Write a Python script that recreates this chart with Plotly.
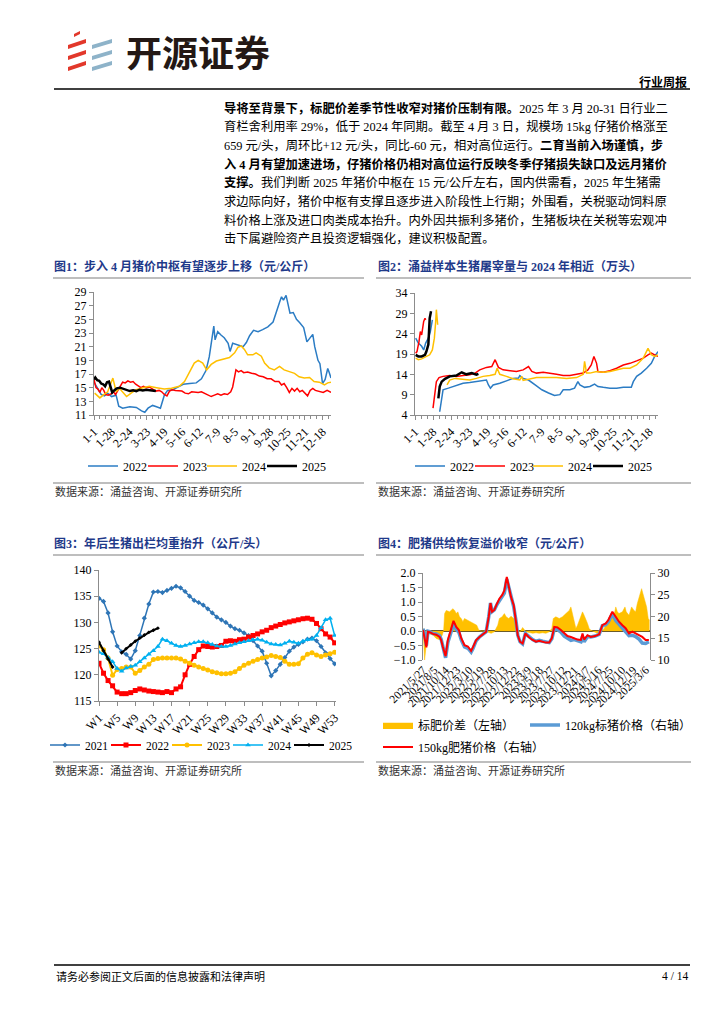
import plotly.graph_objects as go

W, H = 724, 1024
def px(x): return x / W
def py(y): return 1 - y / H

SERIF = "Liberation Serif, Noto Sans CJK SC"
CJK = "Noto Sans CJK SC"
NAVY = "#1F3A8A"

# ---------------- Chart 1 data: 猪价 (元/公斤), x = day of year ----------------
tick_days = [0, 27, 54, 81, 108, 135, 162, 189, 216, 243, 270, 297, 324, 351]
tick_md = ["1-1", "1-28", "2-24", "3-23", "4-19", "5-16", "6-12", "7-9", "8-5", "9-1", "9-28", "10-25", "11-21", "12-18"]

p22_d = [0,6,11,16,21,27,34,38,44,55,65,73,78,83,90,96,102,108,113,121,131,137,147,157,165,172,177,181,184,186,190,195,200,206,209,213,221,229,234,239,245,252,259,267,275,280,285,288,291,295,298,301,306,311,316,322,327,332,336,339,344,347,351,355,359,361,364]
p22_v = [15.8,14.8,14.0,13.8,14.2,13.7,13.9,12.3,12.0,12.2,12.1,11.6,11.4,12.0,12.4,12.2,12.0,13.9,14.6,14.7,15.2,15.5,15.6,15.7,16.3,17.5,19.5,22.5,24.0,22.0,23.2,22.7,22.3,21.5,20.3,21.5,21.2,21.0,21.6,22.6,23.4,23.2,23.5,23.9,24.6,25.9,27.5,28.3,27.8,28.5,27.2,25.9,26.0,25.0,24.5,23.8,21.7,22.4,22.8,21.0,19.0,18.5,15.6,16.2,17.8,17.3,16.4]
p23_d = [0,3,6,9,12,15,18,22,26,30,33,36,40,44,48,52,56,60,64,68,72,76,80,85,90,95,100,104,108,112,116,120,125,130,135,140,145,150,155,160,165,170,175,180,185,190,195,200,205,210,213,216,218,222,226,230,236,242,248,254,260,266,272,278,284,288,292,296,300,304,308,312,316,320,324,328,332,336,340,346,352,358,364]
p23_v = [16.2,15.0,14.8,14.3,15.0,14.6,14.0,13.9,14.1,14.4,14.0,14.5,15.3,15.8,15.7,16.0,15.8,15.9,15.5,15.2,15.0,15.2,15.0,15.1,14.8,14.5,14.6,14.4,14.0,13.8,14.5,14.7,14.6,14.5,14.5,14.2,14.1,14.4,14.3,14.3,14.4,14.2,14.0,13.7,13.9,14.1,13.9,14.1,14.0,14.4,15.1,16.5,17.6,17.3,17.5,17.2,17.3,17.1,17.0,16.7,16.6,16.3,16.3,15.9,15.9,15.4,15.6,15.0,14.3,14.9,14.5,14.9,14.4,14.6,14.2,13.8,14.6,14.9,14.6,14.5,14.3,14.6,14.3]
p24_d = [1,9,14,21,29,34,39,50,57,65,75,85,96,108,119,131,139,147,154,160,167,173,180,188,198,208,216,221,226,231,236,244,249,257,262,269,277,285,292,300,308,315,323,331,338,346,354,359,364]
p24_v = [14.2,13.5,13.9,14.4,16.4,14.4,14.9,13.7,14.2,14.7,15.0,15.2,15.0,14.8,14.9,15.2,15.9,17.4,18.6,19.0,18.6,17.6,18.4,18.9,19.2,19.4,20.1,20.9,21.1,20.6,19.8,19.8,20.1,19.6,18.6,17.9,17.6,18.1,17.6,17.4,17.1,16.6,16.4,16.5,15.9,15.8,15.4,15.7,15.8]
p25_d = [0,2,5,8,11,14,17,20,23,26,28,31,35,40,45,50,55,60,65,70,75,80,85,90,95]
p25_v = [16.2,16.5,16.1,16.0,15.6,15.5,15.2,15.8,15.9,14.8,14.3,14.6,14.9,15.0,14.8,14.6,14.5,14.6,14.5,14.7,14.6,14.7,14.6,14.5,14.5]

# ---------------- Chart 2 data: 屠宰量 (万头) ----------------
s22_d = [1,5,10,13,16,20,23,26,30,37,40,42,50,57,65,72,82,92,100,107,110,113,117,127,137,147,155,157,162,170,180,190,200,209,217,222,232,239,244,247,254,262,269,274,282,292,302,312,324,327,332,339,347,354,359,364]
s22_v = [22.9,21.7,20.9,20.0,21.7,22.9,24.5,27.4,None,4.8,8.9,10.2,10.6,11.0,11.4,11.8,12.0,12.2,12.4,12.6,11.4,10.6,11.4,11.8,12.4,13.0,13.1,13.7,13.0,12.6,11.4,10.2,9.4,8.8,9.0,10.2,10.2,10.6,12.2,11.4,10.8,11.0,11.6,11.0,10.8,10.6,10.6,10.8,10.8,12.2,13.5,14.3,15.5,16.7,18.4,19.6]
s23_d = [1,3,6,8,10,11,13,15,16,22,27,30,32,36,42,52,62,72,82,90,97,107,115,120,125,132,142,152,162,170,175,182,192,202,212,222,232,242,252,259,264,268,272,274,282,292,302,312,322,332,342,349,354,359,364]
s23_v = [19.2,19.6,22.1,24.5,23.7,25.0,27.0,27.8,27.4,None,5.7,10.6,12.2,13.2,13.5,13.7,13.5,13.7,13.9,14.3,15.1,15.7,15.9,17.6,15.7,15.1,14.9,14.7,15.1,15.9,14.7,14.3,14.5,14.3,14.0,13.7,13.7,14.0,14.3,15.1,16.3,18.4,16.7,14.7,14.5,14.9,15.5,16.3,16.7,17.3,18.0,18.8,19.2,18.8,18.4]
s24_d = [1,5,10,17,22,26,29,31,32,34,40,48,52,60,70,82,92,102,112,120,123,127,137,147,157,160,162,172,182,197,212,227,242,252,254,257,262,272,282,292,302,312,322,332,342,349,354,359,364]
s24_v = [18.0,17.6,17.8,18.4,18.8,20.0,22.9,27.0,29.9,26.2,None,11.4,12.6,13.0,12.9,12.6,13.0,13.5,13.7,14.0,15.5,14.0,13.5,12.9,12.6,13.5,12.5,12.9,13.2,13.2,13.2,13.0,13.2,14.0,17.2,14.3,14.3,14.7,14.5,14.7,15.1,15.5,15.5,16.3,18.0,20.4,18.8,18.4,18.8]
s25_d = [1,5,10,15,17,20,21,22,24,30,35,37,40,45,52,62,70,77,85,92,95]
s25_v = [18.8,18.4,18.4,18.8,19.6,21.3,24.5,27.8,29.5,None,8.1,11.0,12.2,12.9,13.5,13.7,14.5,14.0,14.3,13.9,14.1]

# ---------------- Chart 3 data: 出栏均重 (公斤/头), weeks W1..W53 ----------------
weeks = list(range(1, 54))
week_ticks = list(range(1, 54, 4))
w2021 = [134.6,134.0,131.8,128.2,125.5,124.4,123.9,123.0,124.6,127.5,130.8,133.5,135.8,135.9,135.7,136.1,136.5,136.9,136.6,135.9,135.0,134.2,133.8,133.3,132.6,131.8,131.0,130.5,130.0,129.3,128.8,128.5,128.0,127.5,126.5,125.5,124.5,122.2,119.8,120.8,122.0,123.3,124.5,125.3,125.8,126.3,126.8,127.0,126.5,125.4,124.2,123.1,122.1]
w2022 = [122.2,120.3,118.9,117.9,116.7,116.4,116.4,116.6,117.0,117.3,117.1,116.9,116.8,116.7,116.6,116.8,116.6,117.3,117.7,120.0,122.0,123.5,124.8,125.5,125.4,125.3,125.4,125.6,126.4,126.5,126.4,126.7,126.8,127.2,127.5,127.8,128.2,128.5,129.0,129.3,129.6,129.9,130.1,130.3,130.5,130.7,130.8,130.6,129.8,128.8,127.8,127.2,126.1]
w2023 = [125.5,124.8,123.2,119.9,121.0,121.2,121.5,121.5,120.3,120.8,121.5,122.0,122.9,123.1,123.2,123.2,123.2,123.2,123.0,122.6,122.2,121.8,121.5,121.2,120.9,120.6,120.4,120.2,120.2,120.3,120.6,121.2,121.8,122.2,122.6,122.9,123.2,123.4,123.7,123.5,123.3,122.6,122.0,122.0,122.1,123.2,123.9,124.2,123.8,123.5,123.8,124.0,124.3]
w2024 = [124.3,124.0,123.3,122.5,121.2,120.7,121.3,121.6,121.8,122.5,123.2,123.9,124.6,125.4,126.8,126.5,126.0,125.6,125.4,125.6,125.9,126.1,126.3,126.3,126.1,125.8,125.5,125.4,125.4,125.6,125.9,126.1,126.3,126.5,126.7,126.8,126.6,126.2,125.9,125.8,125.7,126.0,126.4,126.2,126.0,126.4,126.7,126.8,127.5,129.0,130.5,130.8,127.5]
w2025 = [126.2,124.6,123.0,121.5,None,124.2,125.0,125.7,126.4,127.0,127.6,128.1,128.5,128.9]

# ---------------- Chart 4 data ----------------
f_tick_dates = ["2021-05-27","2021-08-05","2021-10-14","2021-12-23","2022-03-10","2022-05-19","2022-07-28","2022-10-13","2022-12-22","2023-03-09","2023-05-18","2023-07-27","2023-10-12","2023-12-21","2024-03-07","2024-05-16","2024-07-25","2024-10-10","2024-12-19","2025-03-06"]
f_tick_text = [d.split("-")[0] + "/" + str(int(d.split("-")[1])) + "/" + str(int(d.split("-")[2])) for d in f_tick_dates]

spread_dates = ["2021-05-27","2021-05-31","2021-06-06","2021-06-17","2021-06-27","2021-07-07","2021-07-28","2021-08-17","2021-09-07","2021-09-23","2021-10-02","2021-10-08","2021-10-18","2021-11-08","2021-11-28","2021-12-09","2021-12-19","2021-12-29","2022-01-08","2022-01-19","2022-01-29","2022-02-08","2022-03-01","2022-03-21","2022-04-11","2022-04-25","2022-05-08","2022-05-22","2022-06-12","2022-07-02","2022-07-23","2022-08-12","2022-09-02","2022-09-12","2022-09-29","2022-10-13","2022-10-24","2022-11-09","2022-11-23","2022-12-10","2022-12-24","2023-01-04","2023-01-18","2023-02-03","2023-02-24","2023-03-17","2023-04-06","2023-04-27","2023-05-17","2023-06-07","2023-06-27","2023-07-18","2023-08-03","2023-08-12","2023-08-28","2023-09-18","2023-10-08","2023-10-29","2023-11-19","2023-11-29","2023-12-09","2023-12-19","2023-12-30","2024-01-09","2024-01-19","2024-02-09","2024-02-19","2024-02-29","2024-03-11","2024-03-21","2024-03-31","2024-04-21","2024-05-11","2024-06-01","2024-06-22","2024-07-06","2024-07-22","2024-08-08","2024-08-22","2024-09-02","2024-09-12","2024-09-22","2024-10-13","2024-10-29","2024-11-06","2024-11-23","2024-12-09","2024-12-24","2025-01-03","2025-01-13","2025-01-28","2025-02-09","2025-02-17","2025-03-02","2025-03-12","2025-03-22","2025-03-30"]
spread_vals = [0.10,-0.66,-1.00,-0.43,-0.14,-0.10,-0.14,-0.26,-0.30,-0.15,0.03,0.60,0.71,0.66,0.77,0.71,0.60,0.66,0.49,0.43,0.32,0.43,0.37,0.32,0.26,0.20,0.03,0.00,0.00,-0.03,-0.08,-0.03,0.20,0.43,0.49,0.60,0.49,0.43,0.51,0.43,0.20,0.05,-0.03,0.12,-0.03,-0.06,-0.08,-0.06,-0.08,-0.06,-0.08,-0.03,0.09,0.43,0.49,0.43,0.49,0.60,0.71,0.83,0.60,0.32,0.09,0.20,0.37,0.66,0.54,0.43,0.26,0.09,0.03,-0.03,-0.08,-0.03,0.09,0.26,0.43,0.43,0.54,0.83,0.66,0.60,0.66,0.83,0.66,0.54,0.83,0.71,0.66,0.94,1.23,1.46,1.29,1.06,0.83,0.43,0.37]

price_dates = ["2021-05-27","2021-06-06","2021-06-17","2021-06-27","2021-07-07","2021-07-28","2021-08-17","2021-09-07","2021-09-17","2021-09-27","2021-10-08","2021-10-14","2021-10-28","2021-11-18","2021-12-02","2021-12-19","2022-01-04","2022-01-19","2022-02-08","2022-03-01","2022-03-21","2022-04-01","2022-04-21","2022-05-12","2022-06-01","2022-06-22","2022-07-08","2022-07-19","2022-07-29","2022-08-12","2022-08-29","2022-09-12","2022-09-29","2022-10-13","2022-10-28","2022-11-09","2022-11-23","2022-12-10","2022-12-24","2023-01-04","2023-01-18","2023-02-03","2023-02-20","2023-03-12","2023-04-06","2023-04-27","2023-05-17","2023-06-07","2023-06-27","2023-07-18","2023-08-03","2023-08-18","2023-09-07","2023-09-28","2023-10-19","2023-11-08","2023-11-29","2023-12-19","2024-01-09","2024-01-30","2024-02-09","2024-02-19","2024-03-11","2024-03-31","2024-04-27","2024-05-22","2024-06-11","2024-07-02","2024-07-18","2024-08-12","2024-09-02","2024-09-22","2024-10-13","2024-11-02","2024-11-23","2024-12-14","2025-01-03","2025-01-24","2025-02-13","2025-03-06","2025-03-26"]
fat150 = [16.9,15.0,12.9,16.5,16.4,16.0,15.8,15.3,14.5,13.0,11.6,10.9,14.6,17.3,19.0,17.6,16.9,15.0,13.4,13.1,12.1,12.9,14.6,15.3,15.9,16.5,19.9,23.1,21.1,21.5,23.0,24.1,24.9,26.0,29.1,27.2,24.5,22.6,19.2,15.7,14.2,13.8,16.1,15.3,14.6,14.2,14.4,14.2,14.0,14.0,15.0,17.6,17.5,16.9,16.1,15.5,15.3,15.0,14.7,14.6,16.1,14.7,15.7,15.3,15.5,15.9,18.0,18.4,19.2,21.1,19.9,18.8,18.0,17.3,16.1,16.5,16.1,15.7,15.3,14.6,14.6]
std120 = [17.2,16.0,13.3,16.6,16.5,16.1,16.0,15.6,14.7,13.0,11.2,10.5,14.0,16.7,18.3,17.0,16.4,14.6,13.0,12.7,11.8,12.6,14.4,15.3,15.9,16.5,19.9,23.1,21.1,21.5,22.8,23.7,24.4,25.4,28.6,26.8,24.0,22.2,19.0,15.7,14.2,13.7,16.1,15.4,14.7,14.3,14.5,14.3,14.1,14.0,14.9,17.1,17.0,16.4,15.5,14.9,14.5,14.7,14.5,14.2,15.4,14.2,15.4,15.3,15.5,15.9,17.9,18.1,18.8,20.6,19.1,18.2,17.4,16.5,15.6,15.7,15.4,14.8,13.9,13.8,14.2]

# ---------------- Figure ----------------
fig = go.Figure()

C22, C23, C24, C25 = "#2B7CC4", "#FF0000", "#FFC000", "#000000"

# each legend entry gets its own legend box: id -> (left x px, centre y px, font size)
LEGENDS = {}
def leg(x, y, size):
    lid = "legend" if not LEGENDS else "legend%d" % (len(LEGENDS) + 1)
    LEGENDS[lid] = (x, y, size)
    return lid

def line(x, y, name, color, xa, ya, lg, width=1.5, **kw):
    fig.add_trace(go.Scatter(x=x, y=y, name=name, mode=kw.pop("mode", "lines"),
                             line=dict(color=color, width=width), xaxis=xa, yaxis=ya,
                             legend=lg, connectgaps=False, **kw))

# chart 1
line(p22_d, p22_v, "2022", C22, "x", "y", leg(75, 458, 12))
line(p23_d, p23_v, "2023", C23, "x", "y", leg(135, 458, 12))
line(p24_d, p24_v, "2024", C24, "x", "y", leg(194, 458, 12))
line(p25_d, p25_v, "2025", C25, "x", "y", leg(254, 458, 12), width=2.5)
# chart 2
line(s22_d, s22_v, "2022", C22, "x2", "y2", leg(402, 458, 12))
line(s23_d, s23_v, "2023", C23, "x2", "y2", leg(462, 458, 12))
line(s24_d, s24_v, "2024", C24, "x2", "y2", leg(520, 458, 12))
line(s25_d, s25_v, "2025", C25, "x2", "y2", leg(580, 458, 12), width=2.5)
# chart 3
line(weeks, w2021, "2021", "#2E75B6", "x3", "y3", leg(37, 737, 11.5), width=1.5, mode="lines+markers",
     marker=dict(symbol="diamond", size=4, color="#2E75B6"))
line(weeks, w2022, "2022", "#FF0000", "x3", "y3", leg(98, 737, 11.5), width=2, mode="lines+markers",
     marker=dict(symbol="square", size=5, color="#FF0000"))
line(weeks, w2023, "2023", "#FFC000", "x3", "y3", leg(159, 737, 11.5), width=2, mode="lines+markers",
     marker=dict(symbol="circle", size=5, color="#FFC000"))
line(weeks, w2024, "2024", "#00B0F0", "x3", "y3", leg(220, 737, 11.5), width=1.5, mode="lines+markers",
     marker=dict(symbol="triangle-up", size=5, color="#00B0F0"))
line(weeks[:len(w2025)], w2025, "2025", "#000000", "x3", "y3", leg(281, 737, 11.5), width=2,
     mode="lines+markers", marker=dict(symbol="diamond", size=3, color="#000000"))
# chart 4
fig.add_trace(go.Scatter(x=spread_dates, y=spread_vals, name="标肥价差（左轴）", mode="lines",
                         fill="tozeroy", fillcolor="#FFC000", line=dict(color="#FFC000", width=0.5),
                         xaxis="x4", yaxis="y4", legend=leg(370, 717, 12)))
fig.add_trace(go.Scatter(x=price_dates, y=std120, name="120kg标猪价格（右轴）", mode="lines",
                         line=dict(color="#5B9BD5", width=3.5), xaxis="x4", yaxis="y5",
                         legend=leg(517, 717, 12)))
fig.add_trace(go.Scatter(x=price_dates, y=fat150, name="150kg肥猪价格（右轴）", mode="lines",
                         line=dict(color="#FF0000", width=2), xaxis="x4", yaxis="y5",
                         legend=leg(370, 739, 12)))

AX = dict(showline=True, linecolor="#8C8C8C", linewidth=1, ticks="outside", ticklen=4,
          tickcolor="#8C8C8C", showgrid=False, zeroline=False, automargin=False,
          tickfont=dict(family=SERIF, size=12, color="#000000"))

def dom(a, b, horiz=True):
    return [px(a), px(b)] if horiz else [py(b), py(a)]

minor_d = dict(tickmode="linear", tick0=0, dtick=9, ticks="outside", ticklen=3, tickcolor="#8C8C8C")

fig.update_layout(
    template="none",
    width=W, height=H, margin=dict(l=0, r=0, t=0, b=0, pad=0, autoexpand=False),
    paper_bgcolor="white", plot_bgcolor="white", showlegend=True,
    xaxis=dict(AX, domain=dom(86, 323), range=[0, 364], tickmode="array", tickvals=tick_days,
               ticktext=tick_md, tickangle=-45, anchor="y", minor=minor_d),
    yaxis=dict(AX, domain=dom(284, 407, False), range=[11, 29], tickmode="linear", tick0=11, dtick=2, anchor="x"),
    xaxis2=dict(AX, domain=dom(407, 650), range=[0, 364], tickmode="array", tickvals=tick_days,
                ticktext=tick_md, tickangle=-45, anchor="y2", minor=minor_d),
    yaxis2=dict(AX, domain=dom(285, 407, False), range=[4, 34], tickmode="linear", tick0=4, dtick=5, anchor="x2"),
    xaxis3=dict(AX, domain=dom(91, 328), range=[1, 53.3], tickmode="array", tickvals=week_ticks,
                ticktext=["W%d" % w for w in week_ticks], tickangle=-45, anchor="y3"),
    yaxis3=dict(AX, domain=dom(562, 693, False), range=[115, 140], tickmode="linear", tick0=115, dtick=5, anchor="x3"),
    xaxis4=dict(AX, domain=dom(415, 642), type="date", range=["2021-05-27", "2025-04-02"],
                tickmode="array", tickvals=f_tick_dates, ticktext=f_tick_text, tickangle=-45,
                showline=False, ticks="", anchor="y4", tickfont=dict(family=SERIF, size=11.5, color="#000")),
    yaxis4=dict(AX, domain=dom(565, 652, False), range=[-1, 2], tickmode="linear", tick0=-1, dtick=0.5,
                tickformat=".1f", anchor="x4", zeroline=True, zerolinecolor="#6B5B2A", zerolinewidth=1.5),
    yaxis5=dict(AX, overlaying="y4", side="right", range=[10, 30], tickmode="linear", tick0=10, dtick=5,
                anchor="x4"),
)

for lid, (lx, ly, fs) in LEGENDS.items():
    fig.update_layout({lid: dict(orientation="h", xanchor="left", yanchor="middle", x=px(lx), y=py(ly),
                                 bgcolor="rgba(0,0,0,0)", itemwidth=30, itemclick=False,
                                 itemdoubleclick=False,
                                 font=dict(family=SERIF, size=fs, color="#000"))})

# ---------------- text & decorations ----------------
def txt(x, y, s, size, color="#000", xanchor="left", family=SERIF):
    fig.add_annotation(x=px(x), y=py(y), xref="paper", yref="paper", text=s, showarrow=False,
                       xanchor=xanchor, yanchor="middle", font=dict(family=family, size=size, color=color))

def hline(x0, x1, y, color="#7F7F7F", width=1.2):
    fig.add_shape(type="line", xref="paper", yref="paper", x0=px(x0), x1=px(x1), y0=py(y), y1=py(y),
                  line=dict(color=color, width=width))

def poly(pts, color):
    path = "M " + " L ".join("%f,%f" % (px(a), py(b)) for a, b in pts) + " Z"
    fig.add_shape(type="path", xref="paper", yref="paper", path=path, fillcolor=color,
                  line=dict(width=0))

# logo
RED, BLU = "#E2382B", "#8EB3C9"
for i in range(3):
    y0 = 30 + i * 11
    poly([(60, y0 + 7), (78, y0 + 1), (78, y0 + 5), (60, y0 + 11)], RED)
    poly([(84, y0 + 7), (104, y0 + 1), (104, y0 + 5), (84, y0 + 11)], BLU)
poly([(66, 26), (72, 23), (72, 26), (66, 29)], RED)
txt(116, 43, "<b>开源证券</b>", 36, "#231815", family=CJK)
txt(681, 73, "<b>行业周报</b>", 12, "#000", xanchor="right", family=CJK)
hline(46, 682, 81, "#000", 1.5)

para = [
    "<b>导将至背景下，标肥价差季节性收窄对猪价压制有限。</b>2025 年 3 月 20-31 日行业二",
    "育栏舍利用率 29%，低于 2024 年同期。截至 4 月 3 日，规模场 15kg 仔猪价格涨至",
    "659 元/头，周环比+12 元/头，同比-60 元，相对高位运行。<b>二育当前入场谨慎，步</b>",
    "<b>入 4 月有望加速进场，仔猪价格仍相对高位运行反映冬季仔猪损失缺口及远月猪价</b>",
    "<b>支撑。</b>我们判断 2025 年猪价中枢在 15 元/公斤左右，国内供需看，2025 年生猪需",
    "求边际向好，猪价中枢有支撑且逐步进入阶段性上行期；外围看，关税驱动饲料原",
    "料价格上涨及进口肉类成本抬升。内外因共振利多猪价，生猪板块在关税等宏观冲",
    "击下属避险资产且投资逻辑强化，建议积极配置。",
]
for i, s in enumerate(para):
    txt(214, 100 + i * 18.7, s, 12.3)

# chart titles
txt(44, 258, "<b>图1：步入 4 月猪价中枢有望逐步上移（元/公斤）</b>", 12, NAVY)
txt(368, 258, "<b>图2：涌益样本生猪屠宰量与 2024 年相近（万头）</b>", 12, NAVY)
txt(44, 535, "<b>图3：年后生猪出栏均重抬升（公斤/头）</b>", 12, NAVY)
txt(368, 535, "<b>图4：肥猪供给恢复溢价收窄（元/公斤）</b>", 12, NAVY)
hline(45, 356, 270)
hline(368, 683, 270)
hline(45, 356, 547)
hline(368, 683, 547)

# sources
for x0, x1, yl in [(45, 356, 475), (368, 683, 475), (45, 356, 754), (368, 683, 754)]:
    hline(x0, x1, yl)
    txt(x0, yl + 8, "数据来源：涌益咨询、开源证券研究所", 11, "#333")

# footer
hline(46, 682, 957, "#404040", 2)
txt(46, 968, "请务必参阅正文后面的信息披露和法律声明", 11, "#000")
txt(682, 968, "4 / 14", 11.5, "#000", xanchor="right")

fig.write_html("out.html")
